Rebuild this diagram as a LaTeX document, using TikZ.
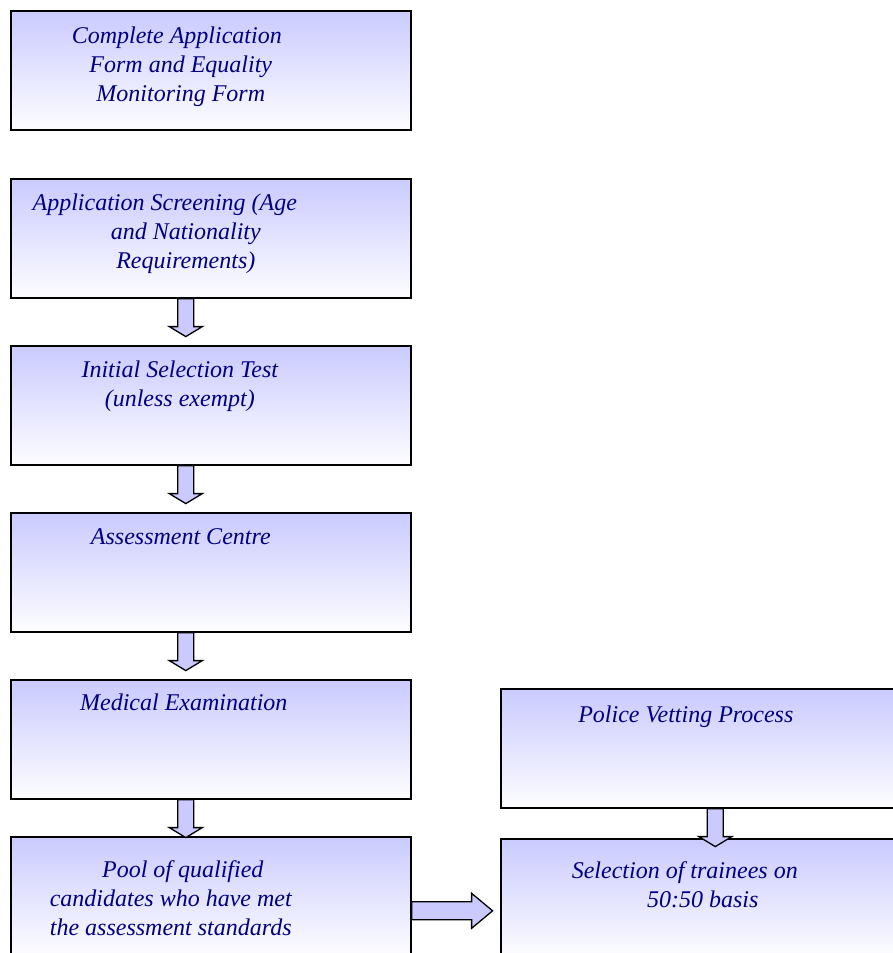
\documentclass[tikz,border=0pt]{standalone}
\usepackage{fontspec}
\setmainfont{Liberation Serif}
\usetikzlibrary{calc}
\definecolor{lav}{RGB}{202,202,255}
\definecolor{navytext}{RGB}{0,0,128}

% fat down arrow below a box: #1 node, #2 x offset
\newcommand{\downarr}[2]{%
\draw[arr] ($(#1.south)+(#2-8,0)$) -- ++(0,28) -- ++(-8.5,0)
  -- ($(#1.south)+(#2,38)$) -- ($(#1.south)+(#2+16.5,28)$) -- ++(-8.5,0)
  -- ($(#1.south)+(#2+8,0)$) -- cycle;}

\begin{document}
\begin{tikzpicture}[x=1pt,y=-1pt,
  box/.style={draw=black,line width=1.6pt,top color=lav,bottom color=lav!4,
    minimum width=400pt,minimum height=119pt,inner sep=0pt,anchor=north west},
  lbl/.style={anchor=north,align=center,inner sep=0pt,text=navytext,
    font=\fontsize{24}{29}\selectfont\itshape},
  arr/.style={draw=black,line width=1.3pt,fill=lav,line join=miter}]
\useasboundingbox (0,0) rectangle (893,953);
\clip (0,0) rectangle (893,953);
\begin{scope}
\node[box] (app) at (10,10) {};
\node[box] (scr) at (10,178) {};
\node[box] (ist) at (10,345) {};
\node[box] (ac) at (10,512) {};
\node[box] (med) at (10,679) {};
\node[box] (pool) at (10,836) {};
\node[box] (pv) at (500,688) {};
\node[box] (sel) at (500,838) {};
\node[lbl] at ($(app.north)+(-30,17)$) {Complete Application\hspace*{8pt}\\Form and Equality\\Monitoring Form};
\node[lbl] at ($(scr.north)+(-25,16)$) {Application Screening (Age\hspace*{42pt}\\and Nationality\\Requirements)};
\node[lbl] at ($(ist.north)+(-31,16)$) {Initial Selection Test\\(unless exempt)};
\node[lbl] at ($(ac.north)+(-30,16)$) {Assessment Centre};
\node[lbl] at ($(med.north)+(-27,15)$) {Medical Examination};
\node[lbl] at ($(pool.north)+(-40,24)$) {\hspace*{24pt}Pool of qualified\\candidates who have met\\the assessment standards};
\node[lbl] at ($(pv.north)+(-15,18)$) {Police Vetting Process};
\node[lbl] at ($(sel.north)+(-16,23)$) {Selection of trainees on\\\hspace*{36pt}50:50 basis};
\downarr{scr}{-25}
\downarr{ist}{-25}
\downarr{ac}{-25}
\downarr{med}{-25}
\downarr{pv}{14.5}
\draw[arr] ($(pool.east)+(0,5.5)$) -- ++(60,0) -- ++(0,-8.5)
  -- ($(pool.east)+(81,14.5)$) -- ($(pool.east)+(60,32)$) -- ++(0,-8.5)
  -- ($(pool.east)+(0,23.5)$) -- cycle;
\end{scope}
\end{tikzpicture}
\end{document}
